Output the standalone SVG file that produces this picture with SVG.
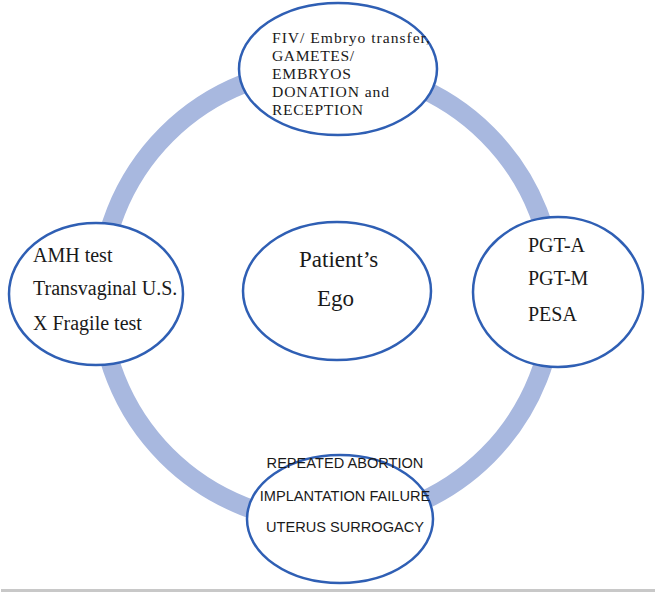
<svg xmlns="http://www.w3.org/2000/svg" width="656" height="592" viewBox="0 0 656 592">
<style>
.node{fill:#ffffff;stroke:#2f5fb4;stroke-width:2.5}
.serif{font-family:"Liberation Serif","Times New Roman",serif;fill:#1a1a1a}
.sans{font-family:"Liberation Sans",Arial,sans-serif;fill:#1a1a1a}
.ring{fill:none;stroke:#a8b8df;stroke-width:19}
.top{font-size:15.6px}
</style>
<rect x="0" y="0" width="656" height="592" fill="#ffffff"/>
<g id="connectors">
<circle class="ring" cx="327" cy="295" r="227"/>
</g>
<g id="node-top">
<ellipse class="node" cx="338" cy="69" rx="99" ry="66"/>
<text class="serif top" x="272" y="43" textLength="158" lengthAdjust="spacing">FIV/ Embryo transfer,</text>
<text class="serif top" x="272" y="61" textLength="82" lengthAdjust="spacing">GAMETES/</text>
<text class="serif top" x="272" y="79" textLength="79" lengthAdjust="spacing">EMBRYOS</text>
<text class="serif top" x="272" y="97" textLength="117" lengthAdjust="spacing">DONATION and</text>
<text class="serif top" x="272" y="115" textLength="91" lengthAdjust="spacing">RECEPTION</text>
</g>
<g id="node-left">
<ellipse class="node" cx="96" cy="294" rx="87" ry="71"/>
<text class="serif" font-size="20" x="33" y="262">AMH test</text>
<text class="serif" font-size="20" x="33" y="295">Transvaginal U.S.</text>
<text class="serif" font-size="20" x="33" y="330">X Fragile test</text>
</g>
<g id="node-center">
<ellipse class="node" cx="337" cy="291" rx="94" ry="69"/>
<text class="serif" font-size="23" x="299" y="267">Patient’s</text>
<text class="serif" font-size="23" x="317" y="306">Ego</text>
</g>
<g id="node-right">
<ellipse class="node" cx="558" cy="292" rx="85" ry="75"/>
<text class="serif" font-size="20" x="528" y="252">PGT-A</text>
<text class="serif" font-size="20" x="528" y="285">PGT-M</text>
<text class="serif" font-size="20" x="528" y="321">PESA</text>
</g>
<g id="node-bottom">
<ellipse class="node" cx="340" cy="519" rx="93" ry="64"/>
<text class="sans" font-size="14.6" x="345" y="468" text-anchor="middle">REPEATED ABORTION</text>
<text class="sans" font-size="14.6" x="345" y="501" text-anchor="middle">IMPLANTATION FAILURE</text>
<text class="sans" font-size="14.6" x="345" y="532" text-anchor="middle">UTERUS SURROGACY</text>
</g>
<rect x="1" y="589" width="654" height="3" fill="#c8c8c8"/>
</svg>
